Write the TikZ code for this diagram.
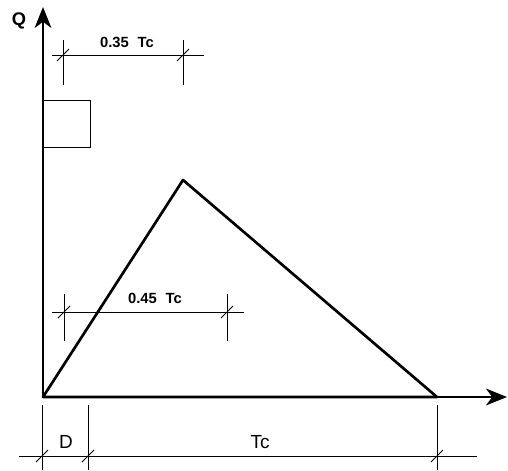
\documentclass[tikz,border=0pt]{standalone}
\usepackage{fontspec}
\setmainfont{Liberation Sans}
\usetikzlibrary{arrows.meta}

\tikzset{
  dimline/.style={line width=0.7pt},
  thickline/.style={line width=1.9pt, line join=round},
  axisarrow/.style={line width=0.9pt, -{Stealth[length=15pt, width=12pt, inset=4.5pt]}},
  dimlabel/.style={inner sep=0pt, font=\bfseries\fontsize{10.5}{12}\selectfont},
  biglabel/.style={inner sep=0pt, font=\fontsize{13.5}{15}\selectfont},
}
% short oblique tick where a dimension line meets its extension line
\newcommand{\slashtick}[1]{\draw[dimline] (#1) ++(-6,6) -- ++(12,-12);}

\begin{document}
\begin{tikzpicture}[x=0.025cm, y=-0.025cm]
            \useasboundingbox (0,0) rectangle (508,470);
            % axes
            \coordinate (O) at (43,397);
            \draw[axisarrow] (O) -- (507,397);
            \draw[axisarrow] (O) -- (43,7);
            \node[inner sep=0pt, font=\bfseries\fontsize{13}{15}\selectfont] (qlabel) at (19,21) {Q};
            % small rectangle on the Q axis
            \draw[dimline] (43,100) rectangle (90,147);
            % triangle
            \coordinate (apex) at (183,180);
            \coordinate (end) at (437,397);
            \draw[thickline] (O) -- (apex) -- (end) -- cycle;
            % dimension 0.35 Tc
            \draw[dimline] (52,55) -- (204,55);
            \draw[dimline] (63,40) -- (63,85);
            \draw[dimline] (183,40) -- (183,85);
            \slashtick{63,55} \slashtick{183,55}
            \node[dimlabel] (dimA) at (127,42) {0.35\hspace{0.6em}Tc};
            % dimension 0.45 Tc
            \draw[dimline] (52,312) -- (244,312);
            \draw[dimline] (64,294) -- (64,341);
            \draw[dimline] (227,294) -- (227,341);
            \slashtick{64,312} \slashtick{227,312}
            \node[dimlabel] (dimB) at (155,298) {0.45\hspace{0.6em}Tc};
            % dimensions D and Tc
            \draw[dimline] (19,456) -- (477,456);
            \draw[dimline] (42,405) -- (42,470);
            \draw[dimline] (88,405) -- (88,470);
            \draw[dimline] (437,405) -- (437,470);
            \slashtick{42,456} \slashtick{88,456} \slashtick{437,456}
            \node[biglabel] (dlabel) at (66,442) {D};
            \node[biglabel] (tclabel) at (260,442) {Tc};
        \end{tikzpicture}
\end{document}
